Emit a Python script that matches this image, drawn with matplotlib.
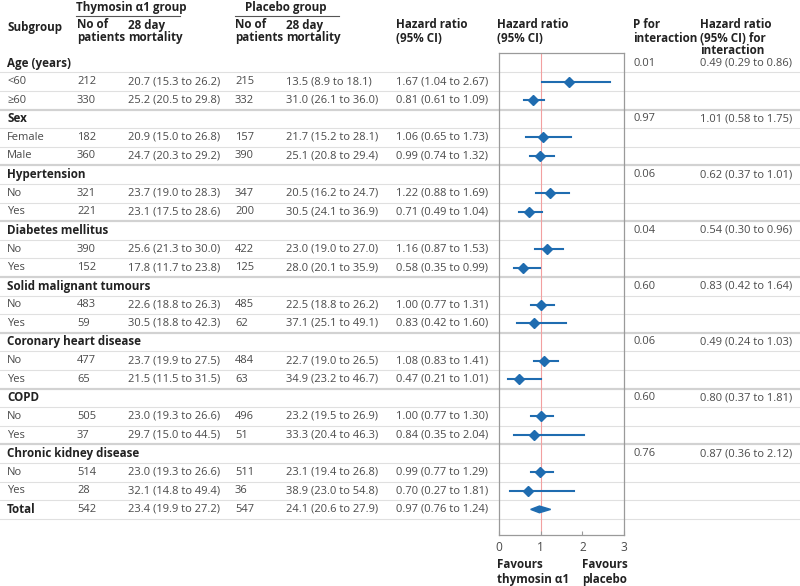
import numpy as np
import matplotlib
matplotlib.use("Agg")
import matplotlib.pyplot as plt
from matplotlib.patches import Polygon

plt.rcParams["font.family"] = ["Open Sans", "DejaVu Sans"]

CATEGORIES = ["Age (years)", "Sex", "Hypertension", "Diabetes mellitus",
              "Solid malignant tumours", "Coronary heart disease", "COPD",
              "Chronic kidney disease"]
SUB_LABELS = ["<60", "≥60", "Female", "Male", "No", "Yes", "No", "Yes",
              "No", "Yes", "No", "Yes", "No", "Yes", "No", "Yes"]

N_THY      = [212, 330, 182, 360, 321, 221, 390, 152, 483, 59, 477, 65, 505, 37, 514, 28]
MORT_THY   = [20.7, 25.2, 20.9, 24.7, 23.7, 23.1, 25.6, 17.8, 22.6, 30.5, 23.7, 21.5, 23.0, 29.7, 23.0, 32.1]
MORT_THY_LO = [15.3, 20.5, 15.0, 20.3, 19.0, 17.5, 21.3, 11.7, 18.8, 18.8, 19.9, 11.5, 19.3, 15.0, 19.3, 14.8]
MORT_THY_HI = [26.2, 29.8, 26.8, 29.2, 28.3, 28.6, 30.0, 23.8, 26.3, 42.3, 27.5, 31.5, 26.6, 44.5, 26.6, 49.4]

N_PLA      = [215, 332, 157, 390, 347, 200, 422, 125, 485, 62, 484, 63, 496, 51, 511, 36]
MORT_PLA   = [13.5, 31.0, 21.7, 25.1, 20.5, 30.5, 23.0, 28.0, 22.5, 37.1, 22.7, 34.9, 23.2, 33.3, 23.1, 38.9]
MORT_PLA_LO = [8.9, 26.1, 15.2, 20.8, 16.2, 24.1, 19.0, 20.1, 18.8, 25.1, 19.0, 23.2, 19.5, 20.4, 19.4, 23.0]
MORT_PLA_HI = [18.1, 36.0, 28.1, 29.4, 24.7, 36.9, 27.0, 35.9, 26.2, 49.1, 26.5, 46.7, 26.9, 46.3, 26.8, 54.8]

HR    = [1.67, 0.81, 1.06, 0.99, 1.22, 0.71, 1.16, 0.58, 1.00, 0.83, 1.08, 0.47, 1.00, 0.84, 0.99, 0.70]
HR_LO = [1.04, 0.61, 0.65, 0.74, 0.88, 0.49, 0.87, 0.35, 0.77, 0.42, 0.83, 0.21, 0.77, 0.35, 0.77, 0.27]
HR_HI = [2.67, 1.09, 1.73, 1.32, 1.69, 1.04, 1.53, 0.99, 1.31, 1.60, 1.41, 1.01, 1.30, 2.04, 1.29, 1.81]

P_INT      = ["0.01", "0.97", "0.06", "0.04", "0.60", "0.06", "0.60", "0.76"]
HR_INT     = [0.49, 1.01, 0.62, 0.54, 0.83, 0.49, 0.80, 0.87]
HR_INT_LO  = [0.29, 0.58, 0.37, 0.30, 0.42, 0.24, 0.37, 0.36]
HR_INT_HI  = [0.86, 1.75, 1.01, 0.96, 1.64, 1.03, 1.81, 2.12]

TOTAL_N_THY, TOTAL_MORT_THY = 542, (23.4, 19.9, 27.2)
TOTAL_N_PLA, TOTAL_MORT_PLA = 547, (24.1, 20.6, 27.9)
TOTAL_HR = (0.97, 0.76, 1.24)

# ---- layout (pixel coordinates) ----
W, H = 800, 586
ROW0, ROWH = 63, 18.6
COLS = [7, 77, 128, 235, 286, 396, 633, 700]
BLUE = "#1f6cb0"
DARK = "#222222"
GREY = "#4a4a4a"
FS = 8.0      # body text
FSB = 8.4     # bold header text


def ci(v, lo, hi, fmt="{:.1f}"):
    return f"{fmt.format(v)} ({fmt.format(lo)} to {fmt.format(hi)})"


def ry(i):
    return ROW0 + ROWH * i


def main():
    fig = plt.figure(figsize=(8, 5.86), dpi=100)
    bg = fig.add_axes([0, 0, 1, 1])
    bg.set_xlim(0, W)
    bg.set_ylim(H, 0)
    bg.axis("off")

    # headers
    hkw = dict(fontsize=FSB, color=DARK, fontweight="bold", va="center", ha="left")
    bg.text(76, 7, "Thymosin α1 group", **hkw)
    bg.text(245, 7, "Placebo group", **hkw)
    bg.plot([76, 180], [16, 16], color="#555555", lw=0.8)
    bg.plot([235, 339], [16, 16], color="#555555", lw=0.8)
    bg.text(COLS[0], 27, "Subgroup", **hkw)
    for x in (COLS[1], COLS[3]):
        bg.text(x, 25, "No of", **hkw)
        bg.text(x, 38, "patients", **hkw)
    for x in (COLS[2], COLS[4]):
        bg.text(x, 25, "28 day", **hkw)
        bg.text(x, 38, "mortality", **hkw)
    for x in (COLS[5], 497):
        bg.text(x, 25, "Hazard ratio", **hkw)
        bg.text(x, 38, "(95% CI)", **hkw)
    bg.text(COLS[6], 25, "P for", **hkw)
    bg.text(COLS[6], 38, "interaction", **hkw)
    bg.text(COLS[7], 25, "Hazard ratio", **hkw)
    bg.text(COLS[7], 38, "(95% CI) for", **hkw)
    bg.text(COLS[7], 51, "interaction", **hkw)

    dkw = dict(fontsize=FS, color=GREY, va="center", ha="left")
    rows_hr = []   # (row index, hr, lo, hi)
    cat_rows = []
    i = 0
    for k, cat in enumerate(CATEGORIES):
        cat_rows.append(i)
        bg.text(COLS[0], ry(i), cat, **hkw)
        bg.text(COLS[6], ry(i), P_INT[k], **dkw)
        bg.text(COLS[7], ry(i), ci(HR_INT[k], HR_INT_LO[k], HR_INT_HI[k], "{:.2f}"), **dkw)
        i += 1
        for j in (2 * k, 2 * k + 1):
            y = ry(i)
            bg.text(COLS[0], y, SUB_LABELS[j], **dkw)
            bg.text(COLS[1], y, str(N_THY[j]), **dkw)
            bg.text(COLS[2], y, ci(MORT_THY[j], MORT_THY_LO[j], MORT_THY_HI[j]), **dkw)
            bg.text(COLS[3], y, str(N_PLA[j]), **dkw)
            bg.text(COLS[4], y, ci(MORT_PLA[j], MORT_PLA_LO[j], MORT_PLA_HI[j]), **dkw)
            bg.text(COLS[5], y, ci(HR[j], HR_LO[j], HR_HI[j], "{:.2f}"), **dkw)
            rows_hr.append((i, HR[j], HR_LO[j], HR_HI[j]))
            i += 1
    total_row = i
    y = ry(total_row)
    bg.text(COLS[0], y, "Total", **hkw)
    bg.text(COLS[1], y, str(TOTAL_N_THY), **dkw)
    bg.text(COLS[2], y, ci(*TOTAL_MORT_THY), **dkw)
    bg.text(COLS[3], y, str(TOTAL_N_PLA), **dkw)
    bg.text(COLS[4], y, ci(*TOTAL_MORT_PLA), **dkw)
    bg.text(COLS[5], y, ci(*TOTAL_HR, "{:.2f}"), **dkw)

    # row separators
    for r in range(total_row + 1):
        yl = ry(r) + ROWH / 2
        thick = (r + 1) in cat_rows
        bg.plot([0, W], [yl, yl], color="#d2d2d2" if thick else "#e0e0e0",
                lw=1.6 if thick else 0.8, zorder=0)

    # forest plot
    top, bot, left, right = 53, 535, 499, 624
    ax = fig.add_axes([left / W, 1 - bot / H, (right - left) / W, (bot - top) / H])
    ax.set_facecolor("none")
    ax.set_xlim(0, 3)
    ax.set_ylim((bot - ROW0) / ROWH, (top - ROW0) / ROWH)
    for s in ax.spines.values():
        s.set_color("#9a9a9a")
        s.set_linewidth(0.9)
    ax.set_yticks([])
    ax.set_xticks([0, 1, 2, 3])
    ax.tick_params(axis="x", direction="in", length=3, color="#9a9a9a",
                   labelsize=FS + 0.6, labelcolor=GREY, pad=4)
    ax.axvline(1, color="#f2a0a0", lw=0.8, zorder=1)
    for r, h, lo, hi in rows_hr:
        ax.plot([lo, hi], [r, r], color=BLUE, lw=1.5, zorder=2)
        ax.plot(h, r, marker="D", ms=5, color=BLUE, zorder=3)
    h, lo, hi = TOTAL_HR
    ax.add_patch(Polygon([(lo, total_row), (h, total_row - 0.18),
                          (hi, total_row), (h, total_row + 0.18)],
                         closed=True, color=BLUE, zorder=3))

    bg.text(497, 564, "Favours", **hkw)
    bg.text(497, 579, "thymosin α1", **hkw)
    ckw = dict(hkw, ha="center")
    bg.text(605, 564, "Favours", **ckw)
    bg.text(605, 579, "placebo", **ckw)

    fig.savefig("out.png", dpi=100, facecolor="white")


if __name__ == "__main__":
    main()
